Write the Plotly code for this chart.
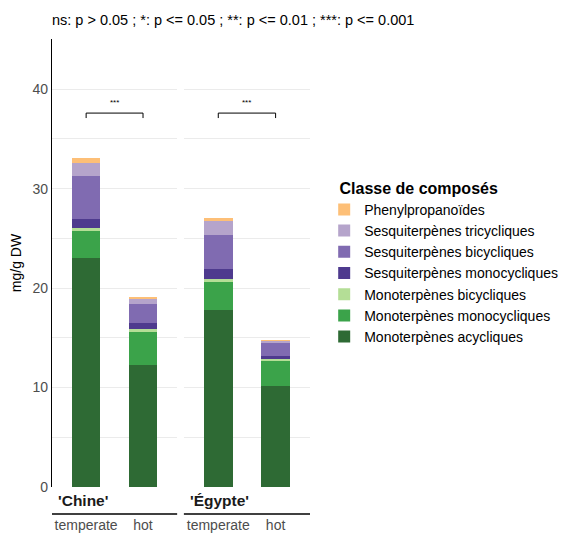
import plotly.graph_objects as go

# ---- data ----
conditions = ["temperate", "hot"]
countries = ["'Chine'", "'Égypte'"]

compounds = [
    "Monoterpènes acycliques",
    "Monoterpènes monocycliques",
    "Monoterpènes bicycliques",
    "Sesquiterpènes monocycliques",
    "Sesquiterpènes bicycliques",
    "Sesquiterpènes tricycliques",
    "Phenylpropanoïdes",
]
colors = ["#2E6A34", "#3BA34A", "#B4DE96", "#4E3A8E", "#806BB1", "#B5A4CB", "#FDBF77"]

# values per compound: [temperate, hot]
chine_acyc = [23.0, 12.26]
chine_mono = [2.8, 3.4]
chine_bi = [0.2, 0.2]
chine_sq_mono = [1.0, 0.6]
chine_sq_bi = [4.3, 1.9]
chine_sq_tri = [1.3, 0.6]
chine_phenyl = [0.5, 0.1]

egypte_acyc = [17.8, 10.15]
egypte_mono = [2.8, 2.5]
egypte_bi = [0.3, 0.3]
egypte_sq_mono = [1.0, 0.2]
egypte_sq_bi = [3.4, 1.3]
egypte_sq_tri = [1.4, 0.3]
egypte_phenyl = [0.4, 0.03]

chine = [chine_acyc, chine_mono, chine_bi, chine_sq_mono, chine_sq_bi, chine_sq_tri, chine_phenyl]
egypte = [egypte_acyc, egypte_mono, egypte_bi, egypte_sq_mono, egypte_sq_bi, egypte_sq_tri, egypte_phenyl]

signif = ["***", "***"]
bracket_y = [37.6, 37.6]
bracket_tick = 0.5
y_ticks = [0, 10, 20, 30, 40]

FONT = "Liberation Sans, Arial, sans-serif"

# page body has a default 8px offset; layout compensates for it
L, T, PW, PH = 44, 31, 268, 448

fig = go.Figure()
axes = ["x", "x2"]
for ci, (name, col) in enumerate(zip(compounds, colors)):
    for k, data in enumerate([chine, egypte]):
        fig.add_trace(go.Bar(
            x=conditions, y=data[ci], name=name, legendgroup=name,
            showlegend=(k == 0), marker=dict(color=col, line=dict(width=0)),
            width=0.5, xaxis=axes[k], yaxis="y",
        ))

# significance brackets
for k in range(2):
    by = bracket_y[k]
    fig.add_trace(go.Scatter(
        x=[conditions[0], conditions[0], conditions[1], conditions[1]],
        y=[by - bracket_tick, by, by, by - bracket_tick],
        mode="lines", line=dict(color="black", width=1),
        showlegend=False, hoverinfo="skip", xaxis=axes[k], yaxis="y",
    ))
    fig.add_annotation(x=0.5, y=by + 1.1, xref=axes[k], yref="y", text=signif[k],
                       showarrow=False, font=dict(size=8, color="black", family=FONT))

# strips below the panels
for k, c in enumerate(countries):
    xd = axes[k] + " domain"
    fig.add_annotation(x=0, y=-13 / PH, xref=xd, yref="paper", xanchor="left", yanchor="middle",
                       xshift=4, text="<b>" + c + "</b>", showarrow=False,
                       font=dict(size=15.5, color="#1A1A1A", family=FONT))
    fig.add_shape(type="line", xref=xd, yref="paper", x0=0, x1=1, y0=-27 / PH, y1=-27 / PH,
                  line=dict(color="black", width=1.4))

xaxis_common = dict(
    type="category", range=[-0.6, 1.6], showgrid=False, zeroline=False, showline=False,
    ticks="", tickfont=dict(size=14, color="#4D4D4D", family=FONT), ticklabelstandoff=28,
    anchor="y", automargin=False,
)

fig.update_layout(
    width=567, height=533, autosize=False,
    margin=dict(l=L, r=567 - L - PW, t=T, b=533 - T - PH),
    paper_bgcolor="white", plot_bgcolor="white",
    barmode="stack", bargap=0,
    font=dict(family=FONT, color="black"),
    title=dict(text="ns: p > 0.05 ; *: p <= 0.05 ; **: p <= 0.01 ; ***: p <= 0.001",
               x=0, xref="paper", xanchor="left", y=1 - 12 / 533, yref="container",
               yanchor="middle", font=dict(size=14.5, color="black", family=FONT),
               automargin=False),
    xaxis=dict(domain=[0, 130 / PW], **xaxis_common),
    xaxis2=dict(domain=[137 / PW, 1], **xaxis_common),
    yaxis=dict(
        range=[0, 45.05], tickvals=y_ticks, showgrid=True, gridcolor="#EBEBEB", gridwidth=1,
        minor=dict(dtick=5, showgrid=True, gridcolor="#EBEBEB", gridwidth=1),
        showline=True, linecolor="black", linewidth=1.3, zeroline=False, ticks="",
        tickfont=dict(size=14, color="#4D4D4D", family=FONT),
        title=dict(text="mg/g DW", font=dict(size=14, color="black", family=FONT), standoff=8),
        anchor="x", automargin=False,
    ),
    legend=dict(
        title=dict(text="<b>&nbsp;&nbsp;&nbsp;Classe de composés</b>",
                   font=dict(size=16, color="black", family=FONT)),
        traceorder="reversed", x=1.055, xanchor="left", y=0.5, yanchor="middle",
        font=dict(size=14, color="black", family=FONT), bgcolor="rgba(0,0,0,0)",
        itemclick=False,
    ),
)

fig.write_html("out.html")
